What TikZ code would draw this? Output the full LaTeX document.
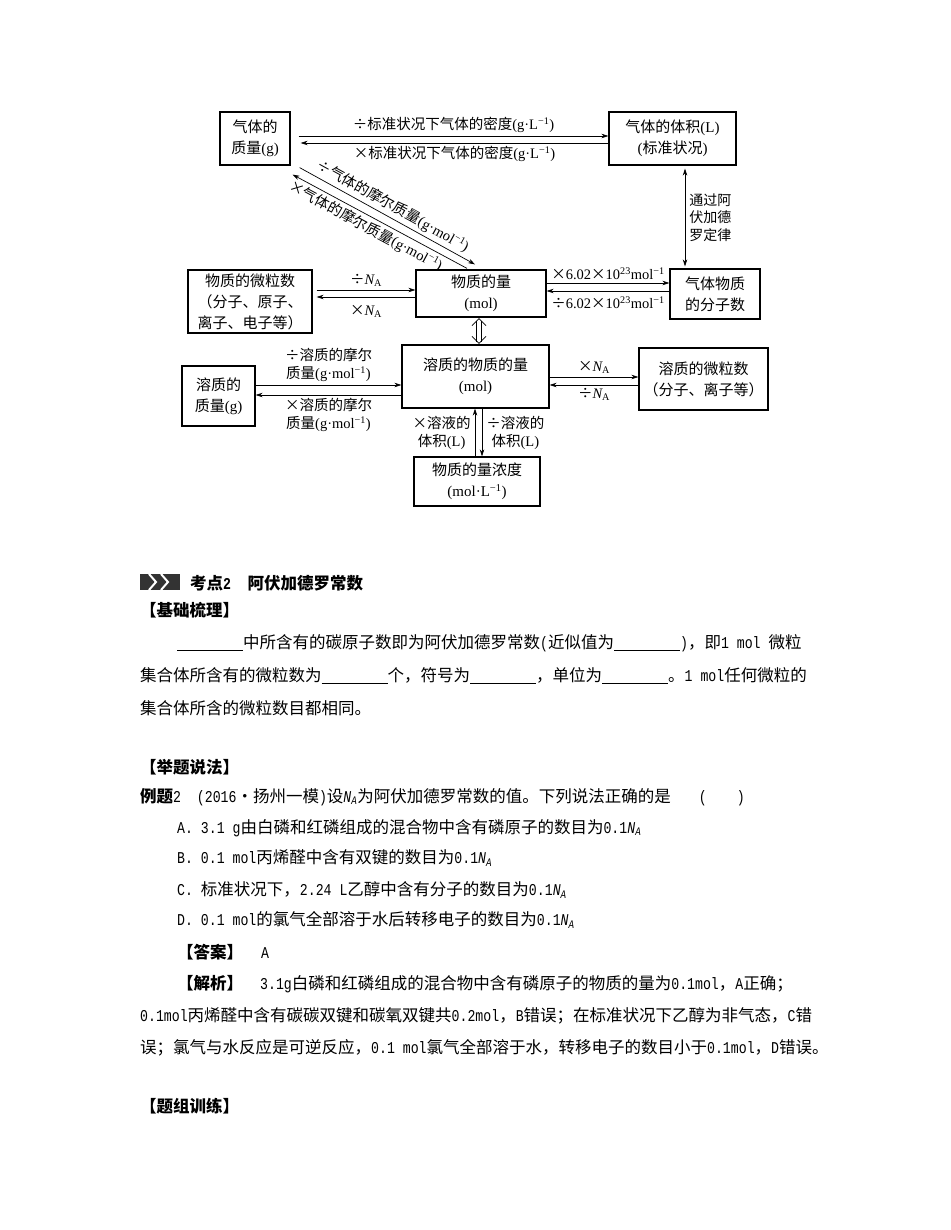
\documentclass[tikz,border=0pt]{standalone}
\usepackage{fontspec}
\setmainfont{Noto Sans CJK SC}
\newfontfamily\ltimes{Liberation Serif}
\newfontfamily\lmono[FakeStretch=0.8]{Liberation Mono}
\usetikzlibrary{arrows.meta}
\newcommand{\tms}[1]{{\ltimes #1}}
\newcommand{\mns}[1]{{\lmono #1}}
\newcommand{\inv}{\textsuperscript{−1}}
\newcommand{\NA}{{\ltimes\itshape N\textsubscript{\upshape A}}}
\newcommand{\na}{{\lmono\itshape N\textsubscript{A}}}
\newcommand{\blank}{\rule[-2pt]{66pt}{0.7pt}}

\begin{document}
\begin{tikzpicture}[x=1pt,y=-1pt,
  box/.style={draw,line width=1.2pt,align=center,font=\fontsize{15}{21}\selectfont,inner sep=2pt},
  arr/.style={line width=0.7pt,-{Stealth[length=7pt,width=4.5pt]}},
  arl/.style={line width=0.7pt,{Stealth[length=7pt,width=4.5pt]}-},
  lbl/.style={font=\fontsize{14.5}{18}\selectfont,align=center,inner sep=2pt},
  txt/.style={anchor=west,inner sep=0pt,font=\fontsize{16.5}{20}\selectfont}]
  \fill[white] (0,0) rectangle (950,1230);
  \useasboundingbox (0,0) rectangle (950,1230);

  \node[box,minimum width=70,minimum height=53] (gm) at (255,138.5) {气体的\\质量\tms{(g)}};
  \node[box,minimum width=127,minimum height=53] (gv) at (672.5,138.5) {气体的体积\tms{(L)}\\\tms{(}标准状况\tms{)}};
  \node[box,minimum width=124,minimum height=63] (np) at (250,301.5) {物质的微粒数\\（分子、原子、\\离子、电子等）};
  \node[box,minimum width=130,minimum height=47] (n) at (481,293.5) {物质的量\\\tms{(mol)}};
  \node[box,minimum width=90,minimum height=50] (gn) at (715,294) {气体物质\\的分子数};
  \node[box,minimum width=147,minimum height=63] (sn) at (475.5,376.5) {溶质的物质的量\\\tms{(mol)}};
  \node[box,minimum width=73,minimum height=60] (sm) at (218.5,396) {溶质的\\质量\tms{(g)}};
  \node[box,minimum width=129,minimum height=62] (sp) at (703.5,379) {溶质的微粒数\\（分子、离子等）};
  \node[box,minimum width=126,minimum height=49] (c) at (477,481.5) {物质的量浓度\\\tms{(mol·L\inv)}};

  \draw[arr] ([xshift=8,yshift=2.5]gm.east) -- ([yshift=2.5]gv.west) node[lbl,midway,above=1pt] {÷标准状况下气体的密度\tms{(g·L\inv)}};
  \draw[arr] ([yshift=-4.5]gv.west) -- ([xshift=10,yshift=-4.5]gm.east) node[lbl,midway,below=1pt] {×标准状况下气体的密度\tms{(g·L\inv)}};
  \draw[arr] ([xshift=9,yshift=-2]gm.south east) -- ([xshift=-6,yshift=5]n.north) node[lbl,midway,sloped,above=1pt] {÷气体的摩尔质量\tms{(g·mol\inv)}};
  \draw[arl] ([xshift=2,yshift=-9]gm.south east) -- ([xshift=-14,yshift=1]n.north) node[lbl,pos=0.45,sloped,below=1pt] {×气体的摩尔质量\tms{(g·mol\inv)}};
  \draw[arr,{Stealth[length=7pt,width=4.5pt]}-{Stealth[length=7pt,width=4.5pt]}] ([xshift=12.5,yshift=-3]gv.south) -- ([xshift=-30,yshift=2]gn.north)
    node[lbl,midway,right,xshift=2,font=\fontsize{14}{17.5}\selectfont] {通过阿\\伏加德\\罗定律};

  \draw[arr] ([xshift=4,yshift=11.5]np.east) -- ([yshift=3.5]n.west) node[lbl,midway,above=1pt] {÷\NA};
  \draw[arr] ([yshift=-3.5]n.west) -- ([xshift=4,yshift=4.5]np.east) node[lbl,midway,below=6pt] {×\NA};
  \draw[arr] ([yshift=10.5]n.east) -- ([yshift=11]gn.west) node[lbl,midway,above=1pt] {×\tms{6.02}×\tms{10\textsuperscript{23}mol\inv}};
  \draw[arr] ([yshift=3]gn.west) -- ([yshift=2.5]n.east) node[lbl,midway,below=3pt] {÷\tms{6.02}×\tms{10\textsuperscript{23}mol\inv}};
  \coordinate (h1) at ([xshift=-2,yshift=-1]n.south);
  \coordinate (h2) at ([xshift=3.5,yshift=1]sn.north);
  \draw[line width=0.8pt] (h1) ++(-7,7) -- (h1) -- ++(7,7) (h2) ++(-7,-7) -- (h2) -- ++(7,-7);
  \draw[line width=0.8pt] (h1) ++(-2.5,2.5) -- ++(0,21) (h1) ++(2.5,2.5) -- ++(0,21);

  \draw[arr] ([yshift=11]sm.east) -- ([yshift=-8.5]sn.west) node[lbl,midway,above=1pt] {÷溶质的摩尔\\质量\tms{(g·mol\inv)}};
  \draw[arr] ([yshift=-18.5]sn.west) -- ([yshift=1]sm.east) node[lbl,midway,below=1pt] {×溶质的摩尔\\质量\tms{(g·mol\inv)}};
  \draw[arr] ([yshift=-0.5]sn.east) -- ([yshift=2]sp.west) node[lbl,midway,above=1pt] {×\NA};
  \draw[arr] ([yshift=-6]sp.west) -- ([yshift=-8.5]sn.east) node[lbl,midway,below=1pt] {÷\NA};
  \draw[arr] ([xshift=-2]c.north) -- ([xshift=-0.5]sn.south) node[lbl,midway,left=2pt] {×溶液的\\体积\tms{(L)}};
  \draw[arr] ([xshift=6.5]sn.south) -- ([xshift=5]c.north) node[lbl,midway,right=2pt] {÷溶液的\\体积\tms{(L)}};

  \fill[black!80] (140,574) rectangle (180,590);
  \draw[white,line width=2pt] (149,574) -- (156,582) -- (149,590) (161,574) -- (168,582) -- (161,590);
  \node[txt,font=\fontsize{16.5}{20}\selectfont\bfseries] (kd) at (190,583) {考点\mns{2}　阿伏加德罗常数};
  \node[txt,font=\fontsize{16.5}{20}\selectfont\bfseries] (jc) at (140,610) {【基础梳理】};
  \node[txt] (p1) at (177,643) {\blank 中所含有的碳原子数即为阿伏加德罗常数\mns{(}近似值为\blank\mns{)}，即\mns{1 mol }微粒};
  \node[txt] (p2) at (140,676) {集合体所含有的微粒数为\blank 个，符号为\blank ，单位为\blank 。\mns{1 mol}任何微粒的};
  \node[txt] (p3) at (140,708) {集合体所含的微粒数目都相同。};
  \node[txt,font=\fontsize{16.5}{20}\selectfont\bfseries] (jt) at (140,767) {【举题说法】};
  \node[txt] (lt) at (140,797) {{\bfseries 例题}\mns{2\ \ (2016}•扬州一模\mns{)}设\na 为阿伏加德罗常数的值。下列说法正确的是\hspace{28pt}\mns{(}\hspace{30pt}\mns{)}};
  \node[txt] (qa) at (177,828) {\mns{A. 3.1 g}由白磷和红磷组成的混合物中含有磷原子的数目为\mns{0.1}\na};
  \node[txt] (qb) at (177,858) {\mns{B. 0.1 mol}丙烯醛中含有双键的数目为\mns{0.1}\na};
  \node[txt] (qc) at (177,890) {\mns{C. }标准状况下，\mns{2.24 L}乙醇中含有分子的数目为\mns{0.1}\na};
  \node[txt] (qd) at (177,920) {\mns{D. 0.1 mol}的氯气全部溶于水后转移电子的数目为\mns{0.1}\na};
  \node[txt] (da) at (177,952) {{\bfseries 【答案】}\hspace{18pt}\mns{A}};
  \node[txt] (jx) at (177,984) {{\bfseries 【解析】}\hspace{17pt}\mns{3.1g}白磷和红磷组成的混合物中含有磷原子的物质的量为\mns{0.1mol}，\mns{A}正确；};
  \node[txt] (j2) at (140,1016) {\mns{0.1mol}丙烯醛中含有碳碳双键和碳氧双键共\mns{0.2mol}，\mns{B}错误；在标准状况下乙醇为非气态，\mns{C}错};
  \node[txt] (j3) at (140,1048) {误；氯气与水反应是可逆反应，\mns{0.1 mol}氯气全部溶于水，转移电子的数目小于\mns{0.1mol}，\mns{D}错误。};
  \node[txt,font=\fontsize{16.5}{20}\selectfont\bfseries] (tz) at (140,1106) {【题组训练】};
\end{tikzpicture}
\end{document}
